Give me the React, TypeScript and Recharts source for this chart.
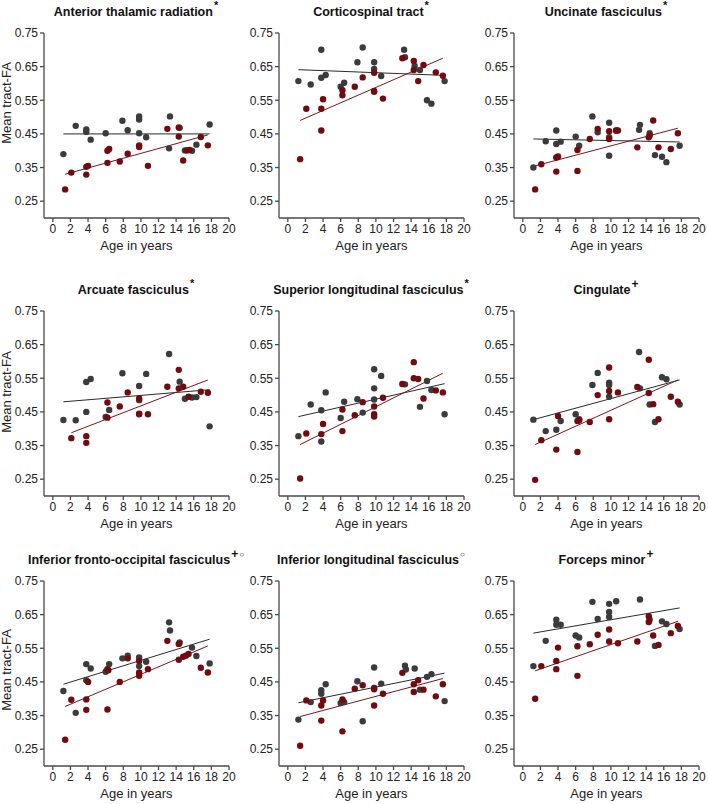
import React from "react";
import { ReferenceLine, Scatter, ScatterChart, XAxis, YAxis } from "recharts";

type Pair = [number, number];

const xTicks = [0, 2, 4, 6, 8, 10, 12, 14, 16, 18, 20];
const yTicks = [0.25, 0.35, 0.45, 0.55, 0.65, 0.75];

// [age, mean tract-FA]
const atrGray: Pair[] = [
  [1.2, 0.39], [2.6, 0.474], [3.8, 0.463], [3.8, 0.456], [4.3, 0.433], [6.0, 0.452],
  [7.9, 0.489], [8.5, 0.461], [9.8, 0.502], [9.8, 0.493], [9.8, 0.452], [10.6, 0.44],
  [13.2, 0.407], [13.3, 0.502], [14.4, 0.468], [15.0, 0.401], [15.8, 0.4], [16.3, 0.418], [17.8, 0.478],
];
const atrRed: Pair[] = [
  [1.4, 0.285], [2.1, 0.335], [3.8, 0.329], [3.8, 0.352], [4.0, 0.355], [6.2, 0.4], [6.2, 0.364],
  [6.4, 0.405], [7.6, 0.368], [8.5, 0.391], [9.8, 0.416], [9.8, 0.411], [10.8, 0.355], [13.0, 0.465],
  [14.3, 0.469], [14.3, 0.442], [14.8, 0.371], [15.2, 0.401], [15.5, 0.402], [16.8, 0.441], [17.6, 0.416],
];
const atrGrayFit: Pair[] = [[1.2, 0.45], [17.8, 0.45]];
const atrRedFit: Pair[] = [[1.4, 0.33], [17.6, 0.447]];

const cstGray: Pair[] = [
  [1.2, 0.607], [2.6, 0.597], [3.8, 0.7], [3.8, 0.617], [4.3, 0.625], [6.0, 0.59], [6.4, 0.602],
  [7.9, 0.663], [8.5, 0.707], [9.8, 0.663], [9.8, 0.643], [10.6, 0.622], [13.2, 0.7], [13.3, 0.678],
  [14.4, 0.652], [15.0, 0.64], [15.8, 0.55], [16.3, 0.54], [17.8, 0.607],
];
const cstRed: Pair[] = [
  [1.4, 0.375], [2.1, 0.525], [3.8, 0.525], [3.8, 0.46], [4.0, 0.553], [6.2, 0.58], [6.2, 0.565],
  [7.6, 0.59], [8.5, 0.618], [9.8, 0.632], [9.8, 0.578], [9.8, 0.575], [10.8, 0.555], [13.0, 0.675],
  [14.3, 0.667], [14.3, 0.64], [14.8, 0.607], [15.4, 0.655], [16.8, 0.633], [17.6, 0.623],
];
const cstGrayFit: Pair[] = [[1.2, 0.641], [17.8, 0.624]];
const cstRedFit: Pair[] = [[1.4, 0.49], [17.6, 0.675]];

const ufGray: Pair[] = [
  [1.2, 0.35], [2.6, 0.428], [3.8, 0.46], [3.8, 0.42], [4.3, 0.427], [6.0, 0.442], [6.4, 0.415],
  [7.9, 0.502], [8.5, 0.455], [9.8, 0.483], [9.8, 0.44], [9.8, 0.385], [10.6, 0.46], [13.2, 0.462],
  [13.3, 0.477], [14.4, 0.452], [15.0, 0.387], [15.8, 0.382], [16.3, 0.366], [17.8, 0.415],
];
const ufRed: Pair[] = [
  [1.4, 0.285], [2.1, 0.36], [3.8, 0.338], [3.8, 0.38], [4.0, 0.383], [6.2, 0.402], [6.2, 0.34],
  [7.6, 0.435], [8.5, 0.465], [9.8, 0.458], [9.8, 0.435], [10.6, 0.46], [10.8, 0.46], [13.0, 0.41],
  [14.3, 0.44], [14.4, 0.445], [14.8, 0.49], [15.4, 0.41], [16.8, 0.405], [17.6, 0.452],
];
const ufGrayFit: Pair[] = [[1.2, 0.435], [17.8, 0.426]];
const ufRedFit: Pair[] = [[1.4, 0.355], [17.6, 0.467]];

const afGray: Pair[] = [
  [1.2, 0.426], [2.6, 0.425], [3.8, 0.539], [3.8, 0.45], [4.3, 0.548], [6.0, 0.435], [6.4, 0.456],
  [7.9, 0.565], [9.8, 0.527], [9.8, 0.485], [10.6, 0.563], [13.2, 0.622], [14.4, 0.54], [15.0, 0.489],
  [15.8, 0.493], [16.3, 0.494], [17.8, 0.407],
];
const afRed: Pair[] = [
  [2.1, 0.372], [3.8, 0.378], [3.8, 0.358], [6.2, 0.478], [6.2, 0.433], [7.6, 0.466], [8.5, 0.508],
  [9.8, 0.49], [9.8, 0.445], [9.8, 0.443], [10.8, 0.443], [13.0, 0.525], [14.3, 0.575], [14.3, 0.52],
  [14.8, 0.525], [15.4, 0.495], [16.8, 0.51], [17.6, 0.507],
];
const afGrayFit: Pair[] = [[1.2, 0.48], [17.8, 0.516]];
const afRedFit: Pair[] = [[2.1, 0.388], [17.6, 0.545]];

const slfGray: Pair[] = [
  [1.2, 0.378], [2.6, 0.472], [3.8, 0.455], [3.8, 0.362], [4.3, 0.508], [6.0, 0.432], [6.4, 0.48],
  [7.9, 0.488], [8.5, 0.448], [9.8, 0.577], [9.8, 0.52], [9.8, 0.487], [10.6, 0.557], [13.3, 0.532],
  [15.0, 0.465], [15.8, 0.542], [16.3, 0.515], [17.8, 0.443],
];
const slfRed: Pair[] = [
  [1.4, 0.252], [2.1, 0.386], [3.8, 0.384], [4.0, 0.414], [6.2, 0.457], [6.2, 0.393], [7.6, 0.44],
  [8.5, 0.479], [9.8, 0.466], [9.8, 0.443], [9.8, 0.436], [10.8, 0.492], [13.0, 0.533], [14.3, 0.598],
  [14.3, 0.55], [14.8, 0.548], [15.4, 0.49], [16.8, 0.514], [17.6, 0.508],
];
const slfGrayFit: Pair[] = [[1.2, 0.436], [17.8, 0.534]];
const slfRedFit: Pair[] = [[1.4, 0.353], [17.6, 0.565]];

const cgGray: Pair[] = [
  [1.2, 0.427], [2.6, 0.393], [3.8, 0.397], [4.3, 0.423], [6.0, 0.443], [6.4, 0.428], [7.9, 0.53],
  [8.5, 0.566], [9.8, 0.537], [9.8, 0.53], [9.8, 0.495], [13.2, 0.628], [13.3, 0.52], [14.4, 0.472],
  [15.0, 0.42], [15.8, 0.553], [16.3, 0.547], [17.8, 0.472],
];
const cgRed: Pair[] = [
  [1.4, 0.248], [2.1, 0.366], [3.8, 0.338], [4.0, 0.438], [6.2, 0.423], [6.2, 0.331], [6.4, 0.425],
  [7.6, 0.42], [8.5, 0.5], [9.8, 0.582], [9.8, 0.512], [9.8, 0.428], [10.8, 0.508], [13.0, 0.524],
  [14.3, 0.605], [14.3, 0.506], [14.8, 0.473], [15.4, 0.428], [16.8, 0.495], [17.6, 0.48],
];
const cgGrayFit: Pair[] = [[1.2, 0.427], [17.8, 0.545]];
const cgRedFit: Pair[] = [[1.4, 0.353], [17.6, 0.545]];

const ifofGray: Pair[] = [
  [1.2, 0.423], [2.6, 0.358], [3.8, 0.503], [3.8, 0.455], [4.3, 0.49], [6.0, 0.48], [6.4, 0.503],
  [7.9, 0.52], [8.5, 0.528], [9.8, 0.523], [9.8, 0.497], [10.6, 0.51], [13.2, 0.627], [13.3, 0.603],
  [14.4, 0.567], [15.8, 0.552], [16.3, 0.527], [17.8, 0.505],
];
const ifofRed: Pair[] = [
  [1.4, 0.278], [2.1, 0.397], [3.8, 0.398], [3.8, 0.367], [4.0, 0.45], [6.2, 0.488], [6.2, 0.368],
  [6.3, 0.485], [7.6, 0.45], [8.5, 0.52], [9.8, 0.512], [9.8, 0.478], [9.8, 0.468], [10.8, 0.488],
  [13.0, 0.572], [14.3, 0.563], [14.3, 0.516], [14.8, 0.525], [15.1, 0.528], [15.4, 0.533],
  [16.8, 0.492], [17.6, 0.478],
];
const ifofGrayFit: Pair[] = [[1.2, 0.443], [17.8, 0.577]];
const ifofRedFit: Pair[] = [[1.4, 0.377], [17.6, 0.557]];

const ilfGray: Pair[] = [
  [1.2, 0.338], [2.6, 0.39], [3.8, 0.425], [3.8, 0.415], [4.3, 0.443], [6.0, 0.387], [6.4, 0.39],
  [7.9, 0.452], [8.5, 0.333], [9.8, 0.493], [10.6, 0.445], [13.3, 0.498], [13.4, 0.487], [14.4, 0.49],
  [15.0, 0.427], [15.8, 0.465], [16.3, 0.473], [17.8, 0.393],
];
const ilfRed: Pair[] = [
  [1.4, 0.26], [2.1, 0.395], [3.8, 0.38], [3.8, 0.335], [4.0, 0.395], [6.2, 0.398], [6.2, 0.303],
  [7.6, 0.43], [8.5, 0.44], [9.8, 0.432], [9.8, 0.428], [9.8, 0.38], [10.8, 0.415], [13.0, 0.477],
  [14.3, 0.443], [14.3, 0.42], [14.8, 0.455], [15.4, 0.427], [16.8, 0.407], [17.6, 0.443],
];
const ilfGrayFit: Pair[] = [[1.2, 0.388], [17.8, 0.476]];
const ilfRedFit: Pair[] = [[1.4, 0.347], [17.6, 0.46]];

const fmGray: Pair[] = [
  [1.2, 0.497], [2.6, 0.572], [3.8, 0.635], [3.8, 0.62], [4.3, 0.62], [6.0, 0.588], [6.4, 0.582],
  [7.9, 0.688], [8.5, 0.637], [9.8, 0.682], [9.8, 0.658], [9.8, 0.643], [10.6, 0.69], [13.3, 0.695],
  [14.4, 0.635], [15.0, 0.557], [15.8, 0.63], [16.3, 0.622], [17.8, 0.607],
];
const fmRed: Pair[] = [
  [1.4, 0.4], [2.1, 0.497], [3.8, 0.512], [3.8, 0.488], [4.0, 0.552], [6.2, 0.556], [6.2, 0.468],
  [7.6, 0.562], [8.5, 0.59], [9.8, 0.606], [9.8, 0.57], [10.8, 0.565], [13.0, 0.57], [14.3, 0.645],
  [14.3, 0.628], [14.8, 0.588], [15.4, 0.56], [16.8, 0.595], [17.6, 0.616],
];
const fmGrayFit: Pair[] = [[1.2, 0.595], [17.8, 0.67]];
const fmRedFit: Pair[] = [[1.4, 0.483], [17.6, 0.63]];

const panels = [
  { title: "Anterior thalamic radiation", mark: "*", gray: atrGray, red: atrRed, grayFit: atrGrayFit, redFit: atrRedFit },
  { title: "Corticospinal tract", mark: "*", gray: cstGray, red: cstRed, grayFit: cstGrayFit, redFit: cstRedFit },
  { title: "Uncinate fasciculus", mark: "*", gray: ufGray, red: ufRed, grayFit: ufGrayFit, redFit: ufRedFit },
  { title: "Arcuate fasciculus", mark: "*", gray: afGray, red: afRed, grayFit: afGrayFit, redFit: afRedFit },
  { title: "Superior longitudinal fasciculus", mark: "*", gray: slfGray, red: slfRed, grayFit: slfGrayFit, redFit: slfRedFit },
  { title: "Cingulate", mark: "+", gray: cgGray, red: cgRed, grayFit: cgGrayFit, redFit: cgRedFit },
  { title: "Inferior fronto-occipital fasciculus", mark: "+○", gray: ifofGray, red: ifofRed, grayFit: ifofGrayFit, redFit: ifofRedFit },
  { title: "Inferior longitudinal fasciculus", mark: "○", gray: ilfGray, red: ilfRed, grayFit: ilfGrayFit, redFit: ilfRedFit },
  { title: "Forceps minor", mark: "+", gray: fmGray, red: fmRed, grayFit: fmGrayFit, redFit: fmRedFit },
];

const colLeft = [0, 235, 470];
const rowTop = [0, 278, 548];
const yLabelCenter = [103, 392, 670];

const FONT = '"Liberation Sans", Arial, sans-serif';
const GRAY = "#3b3b3b";
const RED = "#710b10";
const AXIS = "#4a4a4a";

const toPts = (d: Pair[]) => d.map(([x, y]) => ({ x, y }));

const dot = (fill: string) => (props: any) =>
  <circle cx={props.cx} cy={props.cy} r={3.2} fill={fill} />;

function Mark({ mark }: { mark: string }) {
  return (
    <>
      {mark.split("").map((m, i) => (
        <span
          key={i}
          style={{
            fontSize: m === "+" ? 12 : m === "○" ? 8 : 11,
            fontWeight: 700,
            position: "relative",
            top: m === "+" ? -6 : -7,
            marginLeft: 1,
          }}
        >
          {m}
        </span>
      ))}
    </>
  );
}

function Panel({ p, idx }: { p: (typeof panels)[number]; idx: number }) {
  const col = idx % 3;
  const row = Math.floor(idx / 3);
  const left = colLeft[col];
  const top = rowTop[row];
  return (
    <>
      <div
        style={{
          position: "absolute",
          left: left + 44 + 92 - 150,
          top: top + 4,
          width: 300,
          height: 16,
          lineHeight: "16px",
          textAlign: "center",
          whiteSpace: "nowrap",
          fontFamily: FONT,
          fontWeight: 700,
          fontSize: 12.5,
          color: "#111",
        }}
      >
        {p.title}
        <Mark mark={p.mark} />
      </div>
      {col === 0 && (
        <div
          style={{
            position: "absolute",
            left: 7 - 60,
            top: yLabelCenter[row] - 8,
            width: 120,
            height: 16,
            lineHeight: "16px",
            textAlign: "center",
            transform: "rotate(-90deg)",
            fontFamily: FONT,
            fontSize: 13,
            color: "#222",
          }}
        >
          Mean tract-FA
        </div>
      )}
      <div style={{ position: "absolute", left, top }}>
        <ScatterChart width={236} height={268} margin={{ top: 33, right: 7, left: 0, bottom: 0 }}>
          <XAxis
            type="number"
            dataKey="x"
            domain={[-1, 20]}
            ticks={xTicks}
            interval={0}
            height={50}
            tickSize={4}
            tickMargin={2}
            stroke={AXIS}
            strokeWidth={1.3}
            tick={{ fontSize: 12, fill: "#222", fontFamily: FONT }}
            label={{ value: "Age in years", position: "insideBottom", offset: 18, fontSize: 13, fill: "#222", fontFamily: FONT }}
          />
          <YAxis
            type="number"
            dataKey="y"
            domain={[0.2, 0.75]}
            ticks={yTicks}
            interval={0}
            width={44}
            tickSize={4}
            tickMargin={2}
            stroke={AXIS}
            strokeWidth={1.3}
            tickFormatter={(v: number) => v.toFixed(2)}
            tick={{ fontSize: 12, fill: "#222", fontFamily: FONT }}
          />
          <Scatter data={toPts(p.gray)} fill={GRAY} shape={dot(GRAY)} isAnimationActive={false} />
          <Scatter data={toPts(p.red)} fill={RED} shape={dot(RED)} isAnimationActive={false} />
          <ReferenceLine segment={toPts(p.grayFit)} stroke="#2a2a2a" strokeWidth={1} />
          <ReferenceLine segment={toPts(p.redFit)} stroke="#7e151b" strokeWidth={1} />
        </ScatterChart>
      </div>
    </>
  );
}

export default function App() {
  return (
    <div
      style={{
        position: "absolute",
        left: 0,
        top: 0,
        width: 708,
        height: 804,
        background: "#fff",
        overflow: "hidden",
      }}
    >
      {panels.map((p, i) => (
        <Panel key={p.title} p={p} idx={i} />
      ))}
    </div>
  );
}
